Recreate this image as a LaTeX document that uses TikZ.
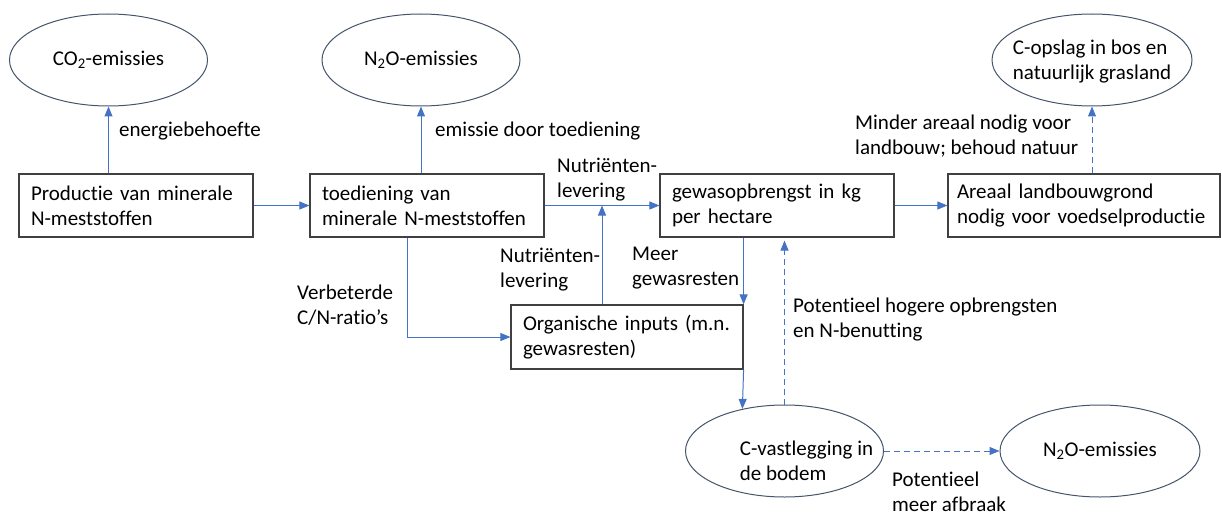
\documentclass[tikz,border=0pt]{standalone}
\usepackage{fontspec}
\setmainfont{Carlito}[Ligatures=NoCommon]
\usetikzlibrary{shapes.geometric}
\usetikzlibrary{arrows.meta}
\definecolor{pijlblauw}{RGB}{68,114,196}
\definecolor{randgrijs}{RGB}{64,64,64}
\definecolor{ovaalrand}{RGB}{68,84,106}

\tikzset{
  tekst/.style={font=\fontsize{21pt}{25pt}\selectfont},
  blok/.style={tekst, draw=randgrijs, line width=1.2pt, align=left, inner xsep=12pt, inner ysep=0pt, minimum height=63pt, text width=#1},
  ovaal/.style={ellipse, draw=ovaalrand, line width=1pt, minimum width=198pt, minimum height=92pt, inner sep=0pt},
  pijl/.style={draw=pijlblauw, line width=1pt, -{Triangle[length=10pt,width=8pt]}},
  stippijl/.style={pijl, dash pattern=on 6pt off 4pt},
  lbl/.style={tekst, anchor=west, align=left, inner sep=0pt}
}

\begin{document}
\begin{tikzpicture}[x=1pt,y=1pt]
\useasboundingbox (0,0) rectangle (1222,-516);

% blokken
\node[blok=210pt] (prod) at (136,-205.5) {Productie van minerale\\N-meststoffen};
\node[blok=210pt] (toed) at (427,-205.5) {toediening van\\minerale N-meststoffen};
\node[blok=210pt] (opbr) at (777,-205.5) {gewasopbrengst in kg\\per hectare};
\node[blok=254pt, inner xsep=9pt] (areaal) at (1084,-205.5) {Areaal landbouwgrond\\nodig voor voedselproductie};
\node[blok=208pt, minimum height=64pt] (organ) at (627,-337) {Organische inputs (m.n.\\gewasresten)};

% ovalen
\node[ovaal, label={[tekst]center:CO\textsubscript{2}-emissies}] (co2) at (108.5,-60) {};
\node[ovaal, label={[tekst]center:N\textsubscript{2}O-emissies}] (no1) at (421,-60) {};
\node[ovaal, minimum width=200pt, label={[tekst, align=left, yshift=-2pt]center:C-opslag in bos en\\natuurlijk grasland}] (copsl) at (1092,-60) {};
\node[ovaal, label={[tekst, align=left, xshift=22pt, yshift=-10pt]center:C-vastlegging in\\de bodem}] (cvast) at (784.5,-451) {};
\node[ovaal, minimum width=200pt, label={[tekst]center:N\textsubscript{2}O-emissies}] (no2) at (1100,-451) {};

% pijlen
\draw[pijl] (co2.south |- prod.north) -- (co2.south);
\draw[pijl] (no1.south |- toed.north) -- (no1.south);
\draw[pijl] (prod.east) -- (toed.west);
\draw[pijl] (toed.east) -- (opbr.west);
\draw[pijl] (opbr.east) -- (areaal.west);
\coordinate (samen) at ([xshift=-25pt]organ.north |- toed.east);
\draw[pijl] (organ.north -| samen) -- (samen);
\draw[pijl] ([xshift=-20pt]toed.south) |- (organ.west);
\draw[pijl] (opbr.south -| organ.north east) -- (organ.north east);
\draw[pijl] (organ.south east) -- (cvast.135);
\draw[stippijl, shorten >=3pt] (cvast.north) -- (cvast.north |- opbr.south);
\draw[stippijl] (cvast.east) -- (no2.west);
\draw[stippijl] (copsl.south |- areaal.north) -- (copsl.south);

% teksten bij de pijlen
\node[lbl] (l1) at (119,-131) {energiebehoefte};
\node[lbl] (l2) at (435,-131) {emissie door toediening};
\node[lbl] (l3) at (557,-180) {Nutriënten-\\levering};
\node[lbl] (l4) at (500,-270) {Nutriënten-\\levering};
\node[lbl] (l5) at (632,-268) {Meer\\gewasresten};
\node[lbl] (l6) at (297,-305) {Verbeterde\\C/N-ratio’s};
\node[lbl] (l7) at (793,-320) {Potentieel hogere opbrengsten\\en N-benutting};
\node[lbl] (l8) at (892,-492) {Potentieel\\meer afbraak};
\node[lbl] (l9) at (855,-136) {Minder areaal nodig voor\\landbouw; behoud natuur};
\end{tikzpicture}
\end{document}
